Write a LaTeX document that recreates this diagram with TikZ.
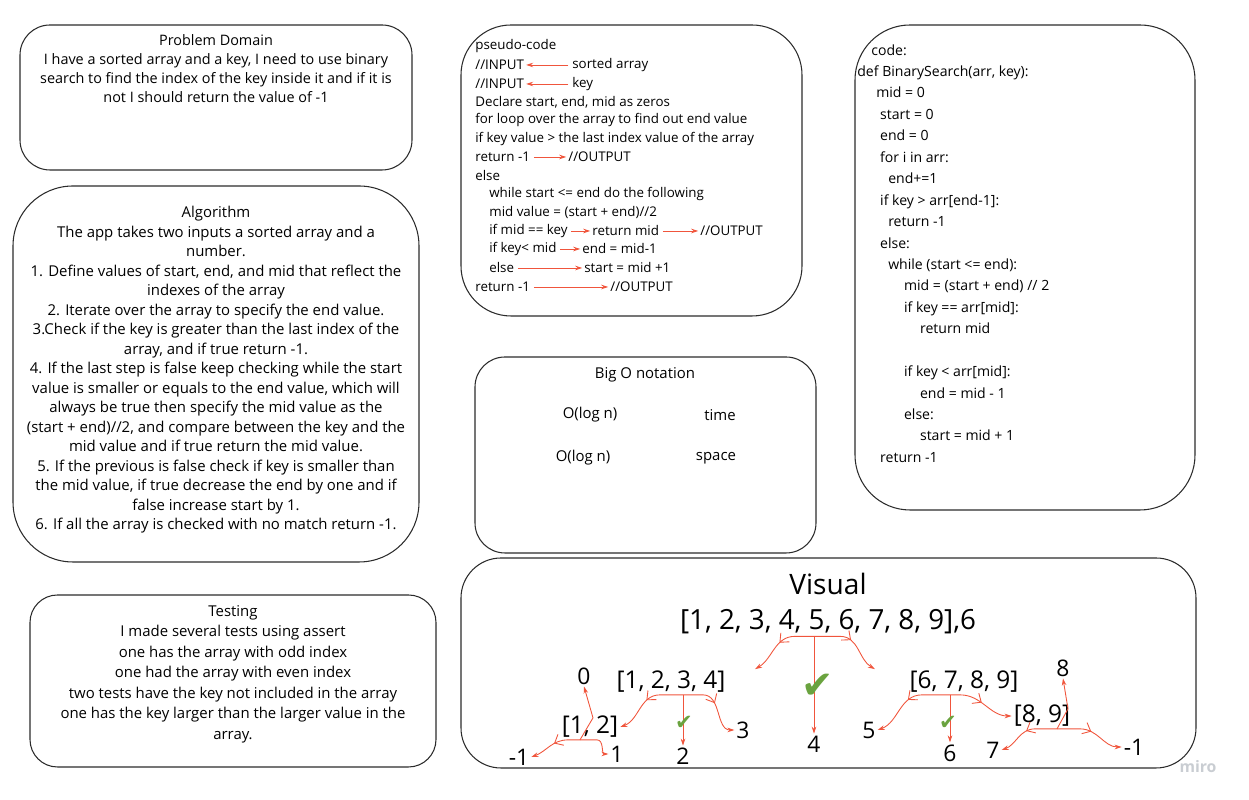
\documentclass[tikz,border=0pt]{standalone}
\usepackage{fontspec}
\setmainfont{Open Sans}
\newfontfamily\symbolfont{DejaVu Sans}
\usetikzlibrary{arrows.meta,decorations.markings}
\definecolor{frame}{HTML}{2B2B2B}
\definecolor{linkred}{HTML}{F0553C}
\definecolor{tickgreen}{HTML}{6AA33F}
\definecolor{watermark}{HTML}{C9CDD2}

\begin{document}
\begin{tikzpicture}[
    x=0.02cm, y=0.02cm,
    panel/.style={draw=frame, line width=0.6pt},
    body/.style={align=center, inner sep=0pt},
    listing/.style={anchor=west, inner sep=0pt, font=\fontsize{7.6}{10.5}\selectfont},
    code/.style={anchor=west, align=left, inner sep=0pt, font=\fontsize{8}{12.2}\selectfont},
    link/.style={linkred, line width=0.5pt},
    arrow/.style={link, -{Stealth[length=4pt,width=2.6pt]}, shorten <=2pt, shorten >=1pt},
    down/.style={link, -{Stealth[length=4pt,width=2.6pt]}},
    branch/.style={down, postaction=decorate, decoration={markings,
      mark=at position 0.5 with {\arrow{Straight Barb[length=4pt,width=7pt]}}}},
    array/.style={font=\fontsize{13.9}{15}\selectfont, inner sep=1pt},
    leaf/.style={font=\fontsize{13}{15}\selectfont, inner sep=1pt},
    tick/.style={text=tickgreen, inner sep=0pt}
  ]
    \useasboundingbox (0,0) rectangle (1249,800);

    \draw[panel, rounded corners=0.6cm] (20,630) rectangle (412,775);
    \draw[panel, rounded corners=1.2cm] (13,238) rectangle (419,614);
    \draw[panel, rounded corners=0.55cm] (30,33) rectangle (436,205);
    \draw[panel, rounded corners=1cm] (461,484) rectangle (802,775);
    \draw[panel, rounded corners=0.6cm] (475,247) rectangle (816,443);
    \draw[panel, rounded corners=1.1cm] (855,290) rectangle (1195,775);
    \draw[panel, rounded corners=0.8cm] (461,32) rectangle (1196,242);

    \node[body, font=\fontsize{8.2}{10.8}\selectfont] (problem) at (216,731)
      {Problem Domain\\I have a sorted array and a key, I need to use binary\\
       search to find the index of the key inside it and if it is\\
       not I should return the value of -1};

    \node[body, font=\fontsize{8.5}{11.1}\selectfont] (algorithm) at (216,430)
      {Algorithm\\
       The app takes two inputs a sorted array and a\\
       number.\\
       1. Define values of start, end, and mid that reflect the\\
       indexes of the array\\
       2. Iterate over the array to specify the end value.\\
       3.Check if the key is greater than the last index of the\\
       array, and if true return -1.\\
       4. If the last step is false keep checking while the start\\
       value is smaller or equals to the end value, which will\\
       always be true then specify the mid value as the\\
       (start + end)//2, and compare between the key and the\\
       mid value and if true return the mid value.\\
       5. If the previous is false check if key is smaller than\\
       the mid value, if true decrease the end by one and if\\
       false increase start by 1.\\
       6. If all the array is checked with no match return -1.};

    \node[body, font=\fontsize{8.5}{11.7}\selectfont] (testing) at (233,126)
      {Testing\\I made several tests using assert\\
       one has the array with odd index\\one had the array with even index\\
       two tests have the key not included in the array\\
       one has the key larger than the larger value in the\\array.};

    \node[listing] (ps0) at (475,754) {pseudo-code};
    \node[listing] (ps1) at (475,735) {//INPUT};
    \node[listing] (ps1b) at (572,735) {sorted array};
    \node[listing] (ps2) at (475,716) {//INPUT};
    \node[listing] (ps2b) at (572,716) {key};
    \node[listing] (ps3) at (475,698) {Declare start, end, mid as zeros};
    \node[listing] (ps4) at (475,680) {for loop over the array to find out end value};
    \node[listing] (ps5) at (475,661) {if key value > the last index value of the array};
    \node[listing] (ps6) at (475,643) {return -1};
    \node[listing] (ps6b) at (568,643) {//OUTPUT};
    \node[listing] (ps7) at (475,624) {else};
    \node[listing] (ps8) at (489,606) {while start <= end do the following};
    \node[listing] (ps9) at (489,588) {mid value = (start + end)//2};
    \node[listing] (ps10) at (489,569) {if mid == key};
    \node[listing] (ps10b) at (592,569) {return mid};
    \node[listing] (ps10c) at (700,569) {//OUTPUT};
    \node[listing] (ps11) at (489,551) {if key< mid};
    \node[listing] (ps11b) at (582,551) {end = mid-1};
    \node[listing] (ps12) at (489,532) {else};
    \node[listing] (ps12b) at (584,532) {start = mid +1};
    \node[listing] (ps13) at (475,513) {return -1};
    \node[listing] (ps13b) at (610,513) {//OUTPUT};

    \draw[arrow] (ps1b.west) -- (ps1.east);
    \draw[arrow] (ps2b.west) -- (ps2.east);
    \draw[arrow] (ps6.east) -- (ps6b.west);
    \draw[arrow] (ps10.east) -- (ps10b.west);
    \draw[arrow] (ps10b.east) -- (ps10c.west);
    \draw[arrow] (ps11.east) -- (ps11b.west);
    \draw[arrow] (ps12.east) -- (ps12b.west);
    \draw[arrow] (ps13.east) -- (ps13b.west);

    \node[body, font=\fontsize{8.5}{10}\selectfont] (bigo) at (645,425) {Big O notation};
    \node[body, font=\fontsize{8.5}{10}\selectfont] (timeo) at (590,385) {O(log n)};
    \node[body, font=\fontsize{8.5}{10}\selectfont] (timel) at (720,385) {time};
    \node[body, font=\fontsize{8.5}{10}\selectfont] (spaceo) at (583,342) {O(log n)};
    \node[body, font=\fontsize{8.5}{10}\selectfont] (spacel) at (716,342) {space};

    \node[code] (code) at (857,546.5)
      {\hspace*{8pt}code:\\
       def BinarySearch(arr, key):\\
       \hspace*{10.8pt}mid = 0\\
       \hspace*{13pt}start = 0\\
       \hspace*{13pt}end = 0\\
       \hspace*{13pt}for i in arr:\\
       \hspace*{17.6pt}end+=1\\
       \hspace*{13pt}if key > arr[end-1]:\\
       \hspace*{17.6pt}return -1\\
       \hspace*{13pt}else:\\
       \hspace*{17.6pt}while (start <= end):\\
       \hspace*{26.6pt}mid = (start + end) // 2\\
       \hspace*{26.6pt}if key == arr[mid]:\\
       \hspace*{35.7pt}return mid\\
       \mbox{}\\
       \hspace*{26.6pt}if key < arr[mid]:\\
       \hspace*{35.7pt}end = mid - 1\\
       \hspace*{26.6pt}else:\\
       \hspace*{35.7pt}start = mid + 1\\
       \hspace*{13pt}return -1};

    \node[font=\fontsize{16}{18}\selectfont, inner sep=1pt] (visual) at (828,216) {Visual};
    \node[font=\fontsize{15.8}{17}\selectfont, inner sep=1pt] (top) at (828,178)
      {[1, 2, 3, 4, 5, 6, 7, 8, 9],6};
    \node[array] (left) at (671,118) {[1, 2, 3, 4]};
    \node[array] (right) at (964,118) {[6, 7, 8, 9]};
    \node[array] (leftleft) at (590,73) {[1, 2]};
    \node[array] (rightright) at (1042,84) {[8, 9]};
    \node[leaf] (four) at (814,56) {4};
    \node[leaf] (two) at (683,44) {2};
    \node[leaf] (three) at (743,70) {3};
    \node[leaf] (zero) at (584,124) {0};
    \node[leaf] (minusa) at (519,43) {-1};
    \node[leaf] (one) at (617,46) {1};
    \node[leaf] (five) at (869,70) {5};
    \node[leaf] (six) at (950,47) {6};
    \node[leaf] (eight) at (1063,132) {8};
    \node[leaf] (seven) at (993,50) {7};
    \node[leaf] (minusb) at (1134,53) {-1};

    \draw[down] (four.north |- top.south) -- (four.north);
    \draw[branch] (four.north |- top.south) -- ++(-19,0)
      to[out=180,in=30] ([xshift=0.55cm]left.north east);
    \draw[branch] (four.north |- top.south) -- ++(26,0)
      to[out=0,in=150] ([xshift=-0.65cm]right.north west);

    \draw[down] (two.north |- left.south) -- (two.north);
    \draw[branch] (two.north |- left.south) -- ++(-23,0)
      to[out=180,in=20] (leftleft.east);
    \draw[branch] (two.north |- left.south) -- ++(20,0)
      to[out=0,in=180] (three.west);

    \draw[down] ([xshift=-0.2cm]leftleft.south) -- ++(13,22) -- (zero.south);
    \draw[branch] ([xshift=-0.2cm]leftleft.south) -- ++(-12,0)
      to[out=180,in=20] (minusa.east);
    \draw[down] ([xshift=-0.2cm]leftleft.south) -- ++(17,0)
      to[out=0,in=180] (one.west);

    \draw[down] (six.north |- right.south) -- (six.north);
    \draw[branch] (six.north |- right.south) -- ++(-28,0)
      to[out=180,in=20] (five.east);
    \draw[branch] (six.north |- right.south) -- ++(10,0)
      to[out=0,in=180] (rightright.west);

    \draw[down] ([xshift=0.3cm]rightright.south) -- ++(11,20) -- (eight.south);
    \draw[branch] ([xshift=0.3cm]rightright.south) -- ++(-22,0)
      to[out=180,in=20] (seven.east);
    \draw[branch] ([xshift=0.3cm]rightright.south) -- ++(23,0)
      to[out=0,in=180] (minusb.west);

    \node[tick, font=\symbolfont\fontsize{22}{22}\selectfont] (tickfour) at (818,114) {✔};
    \node[tick, font=\symbolfont\fontsize{12}{12}\selectfont] (ticktwo) at (684,77) {✔};
    \node[tick, font=\symbolfont\fontsize{12}{12}\selectfont] (ticksix) at (948,77) {✔};

    \node[text=watermark, font=\fontsize{9}{9}\selectfont\bfseries] (miro) at (1198,33) {miro};
\end{tikzpicture}
\end{document}
